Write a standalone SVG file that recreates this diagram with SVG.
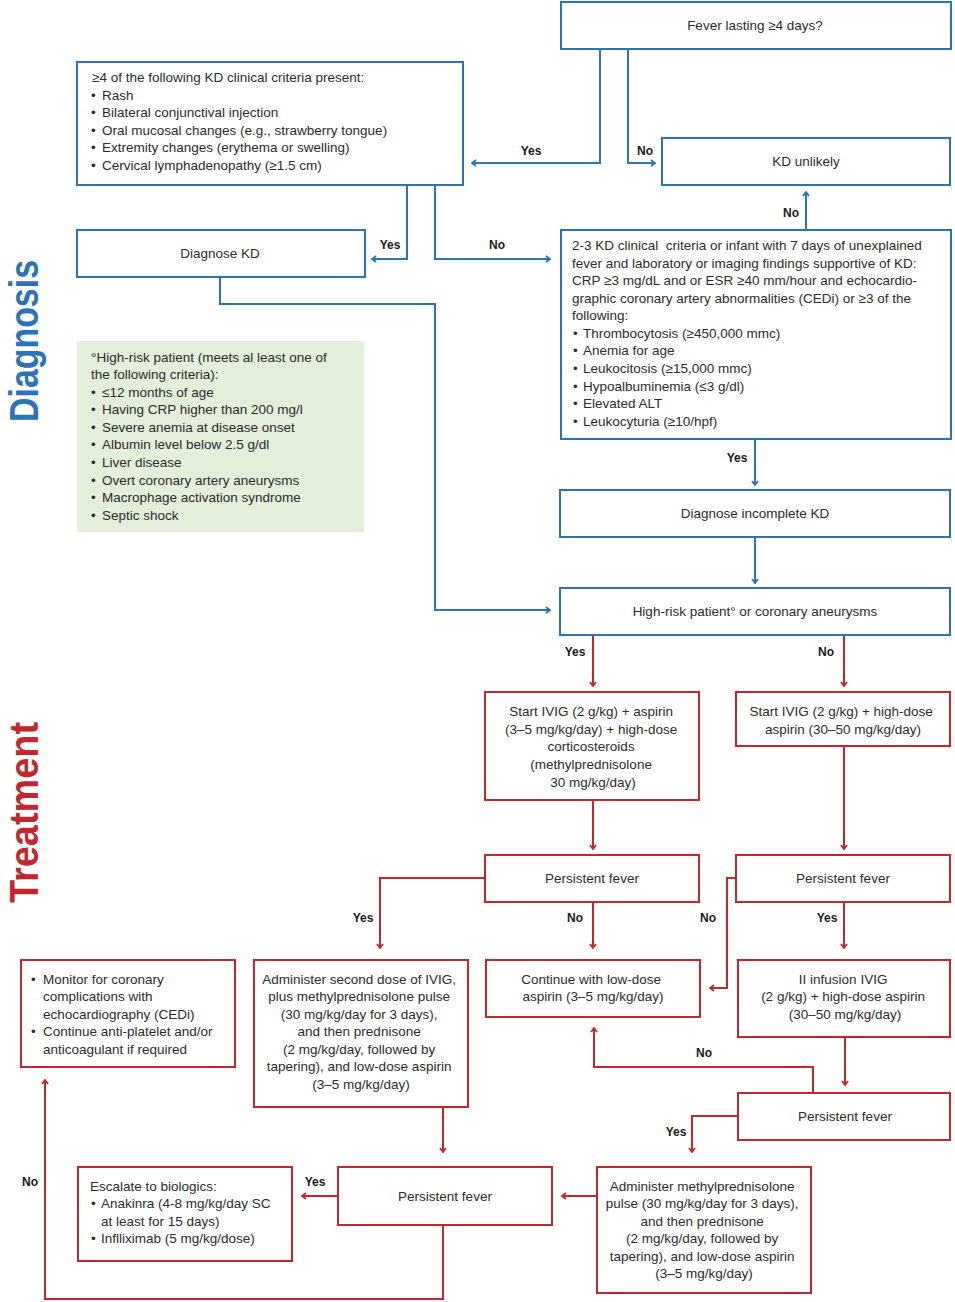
<svg xmlns="http://www.w3.org/2000/svg" width="955" height="1302" viewBox="0 0 955 1302">
<defs>
<style>
.bb{fill:#fff;stroke:#2a73b9;stroke-width:2}
.rb{fill:#fff;stroke:#c1272d;stroke-width:2}
.gb{fill:#e3efd9;stroke:none}
.t{font-family:"Liberation Sans",Arial,sans-serif;font-size:13.5px;fill:#2b2b2b}
.c{text-anchor:middle}
.lb{font-family:"Liberation Sans Narrow","Liberation Sans",Arial,sans-serif;font-size:12px;font-weight:bold;fill:#1a1a1a;text-anchor:middle}
.bl{fill:none;stroke:#2a73b9;stroke-width:2;marker-end:url(#ab)}
.rl{fill:none;stroke:#c1272d;stroke-width:2;marker-end:url(#ar)}
.side{font-family:"Liberation Sans Narrow","Liberation Sans",Arial,sans-serif;font-weight:bold;font-size:40px}
</style>
<marker id="ab" viewBox="0 0 8 8" refX="7" refY="4" markerWidth="8" markerHeight="8" markerUnits="userSpaceOnUse" orient="auto">
<path d="M3,1 L7,4 L3,7" fill="none" stroke="#2a73b9" stroke-width="1.8"/>
</marker>
<marker id="ar" viewBox="0 0 8 8" refX="7" refY="4" markerWidth="8" markerHeight="8" markerUnits="userSpaceOnUse" orient="auto">
<path d="M3,1 L7,4 L3,7" fill="none" stroke="#c1272d" stroke-width="1.8"/>
</marker>
</defs>
<rect width="955" height="1302" fill="#fff"/>

<text class="side" fill="#2a73b9" transform="translate(38,422) rotate(-90)" textLength="162" lengthAdjust="spacingAndGlyphs">Diagnosis</text>
<text class="side" fill="#c1272d" transform="translate(38,903) rotate(-90)" textLength="181" lengthAdjust="spacingAndGlyphs">Treatment</text>

<g id="connectors">
<path class="bl" d="M600,49 V163 H472"/>
<path class="bl" d="M628,49 V163 H655"/>
<path class="bl" d="M806,230 V192"/>
<path class="bl" d="M407,185 V259 H372"/>
<path class="bl" d="M435,185 V259 H550"/>
<path class="bl" d="M220,277 V304 H435 V610 H550"/>
<path class="bl" d="M755,439 V485"/>
<path class="bl" d="M755,537 V583"/>
<path class="rl" d="M593,635 V686"/>
<path class="rl" d="M844,635 V686"/>
<path class="rl" d="M593,800 V849"/>
<path class="rl" d="M844,746 V849"/>
<path class="rl" d="M485,878 H380 V948"/>
<path class="rl" d="M593,902 V948"/>
<path class="rl" d="M736,878 H727 V988 H710"/>
<path class="rl" d="M844,902 V948"/>
<path class="rl" d="M813,1093 V1067 H594 V1028"/>
<path class="rl" d="M845,1037 V1085"/>
<path class="rl" d="M738,1116 H692 V1152"/>
<path class="rl" d="M443,1107 V1152"/>
<path class="rl" d="M597,1196 H562"/>
<path class="rl" d="M338,1196 H302"/>
<path class="rl" d="M443,1225 V1299 H45 V1080"/>
<text class="lb" x="531" y="155">Yes</text>
<text class="lb" x="645" y="155">No</text>
<text class="lb" x="791" y="217">No</text>
<text class="lb" x="390" y="249">Yes</text>
<text class="lb" x="497" y="249">No</text>
<text class="lb" x="737" y="462">Yes</text>
<text class="lb" x="575" y="656">Yes</text>
<text class="lb" x="826" y="656">No</text>
<text class="lb" x="363" y="922">Yes</text>
<text class="lb" x="575" y="922">No</text>
<text class="lb" x="708" y="922">No</text>
<text class="lb" x="827" y="922">Yes</text>
<text class="lb" x="704" y="1057">No</text>
<text class="lb" x="676" y="1136">Yes</text>
<text class="lb" x="315" y="1186">Yes</text>
<text class="lb" x="30" y="1186">No</text>
</g>

<g id="fever">
<rect class="bb" x="561" y="2" width="390" height="47"/>
<text class="t c" x="755" y="30">Fever lasting ≥4 days?</text>
</g>

<g id="criteria">
<rect class="bb" x="77" y="62" width="386" height="123"/>
<text class="t"><tspan x="92" y="82">≥4 of the following KD clinical criteria present:</tspan>
<tspan x="91" y="100">•</tspan><tspan x="102" y="100">Rash</tspan>
<tspan x="91" y="117">•</tspan><tspan x="102" y="117">Bilateral conjunctival injection</tspan>
<tspan x="91" y="135">•</tspan><tspan x="102" y="135">Oral mucosal changes (e.g., strawberry tongue)</tspan>
<tspan x="91" y="152">•</tspan><tspan x="102" y="152">Extremity changes (erythema or swelling)</tspan>
<tspan x="91" y="170">•</tspan><tspan x="102" y="170">Cervical lymphadenopathy (≥1.5 cm)</tspan></text>
</g>

<g id="unlikely">
<rect class="bb" x="662" y="138" width="288" height="47"/>
<text class="t c" x="806" y="166">KD unlikely</text>
</g>

<g id="diagnose">
<rect class="bb" x="77" y="230" width="288" height="47"/>
<text class="t c" x="220" y="258">Diagnose KD</text>
</g>

<g id="incomplete-criteria">
<rect class="bb" x="561" y="230" width="390" height="209"/>
<text class="t"><tspan x="572" y="250">2-3 KD clinical&#160; criteria or infant with 7 days of unexplained</tspan>
<tspan x="572" y="268">fever and laboratory or imaging findings supportive of KD:</tspan>
<tspan x="572" y="285">CRP ≥3 mg/dL and or ESR ≥40 mm/hour and echocardio-</tspan>
<tspan x="572" y="303">graphic coronary artery abnormalities (CEDi) or ≥3 of the</tspan>
<tspan x="572" y="320">following:</tspan>
<tspan x="573" y="338">•</tspan><tspan x="583" y="338">Thrombocytosis (≥450,000 mmc)</tspan>
<tspan x="573" y="355">•</tspan><tspan x="583" y="355">Anemia for age</tspan>
<tspan x="573" y="373">•</tspan><tspan x="583" y="373">Leukocitosis (≥15,000 mmc)</tspan>
<tspan x="573" y="391">•</tspan><tspan x="583" y="391">Hypoalbuminemia (≤3 g/dl)</tspan>
<tspan x="573" y="408">•</tspan><tspan x="583" y="408">Elevated ALT</tspan>
<tspan x="573" y="426">•</tspan><tspan x="583" y="426">Leukocyturia (≥10/hpf)</tspan></text>
</g>

<g id="high-risk-note">
<rect class="gb" x="77" y="341" width="287" height="191"/>
<text class="t"><tspan x="91" y="362">°High-risk patient (meets al least one of</tspan>
<tspan x="91" y="379">the following criteria):</tspan>
<tspan x="91" y="397">•</tspan><tspan x="102" y="397">≤12 months of age</tspan>
<tspan x="91" y="414">•</tspan><tspan x="102" y="414">Having CRP higher than 200 mg/l</tspan>
<tspan x="91" y="432">•</tspan><tspan x="102" y="432">Severe anemia at disease onset</tspan>
<tspan x="91" y="449">•</tspan><tspan x="102" y="449">Albumin level below 2.5 g/dl</tspan>
<tspan x="91" y="467">•</tspan><tspan x="102" y="467">Liver disease</tspan>
<tspan x="91" y="485">•</tspan><tspan x="102" y="485">Overt coronary artery aneurysms</tspan>
<tspan x="91" y="502">•</tspan><tspan x="102" y="502">Macrophage activation syndrome</tspan>
<tspan x="91" y="520">•</tspan><tspan x="102" y="520">Septic shock</tspan></text>
</g>

<g id="diagnose-incomplete">
<rect class="bb" x="560" y="490" width="390" height="47"/>
<text class="t c" x="755" y="518">Diagnose incomplete KD</text>
</g>

<g id="high-risk">
<rect class="bb" x="560" y="588" width="390" height="47"/>
<text class="t c" x="755" y="616">High-risk patient° or coronary aneurysms</text>
</g>

<g id="ivig-steroids">
<rect class="rb" x="485" y="692" width="214" height="108"/>
<text class="t c"><tspan x="593" y="716">Start IVIG (2 g/kg) + aspirin</tspan>
<tspan x="593" y="734">(3–5 mg/kg/day) + high-dose</tspan>
<tspan x="593" y="751">corticosteroids</tspan>
<tspan x="593" y="769">(methylprednisolone</tspan>
<tspan x="593" y="787">30 mg/kg/day)</tspan></text>
</g>

<g id="ivig-aspirin">
<rect class="rb" x="736" y="692" width="214" height="54"/>
<text class="t c"><tspan x="843" y="716">Start IVIG (2 g/kg) + high-dose</tspan>
<tspan x="843" y="734">aspirin (30–50 mg/kg/day)</tspan></text>
</g>

<g id="pf-left">
<rect class="rb" x="485" y="855" width="214" height="47"/>
<text class="t c" x="592" y="883">Persistent fever</text>
</g>

<g id="pf-right">
<rect class="rb" x="736" y="855" width="214" height="47"/>
<text class="t c" x="843" y="883">Persistent fever</text>
</g>

<g id="monitor">
<rect class="rb" x="21" y="960" width="214" height="107"/>
<text class="t"><tspan x="31" y="984">•</tspan><tspan x="43" y="984">Monitor for coronary</tspan>
<tspan x="43" y="1001">complications with</tspan>
<tspan x="43" y="1019">echocardiography (CEDi)</tspan>
<tspan x="31" y="1036">•</tspan><tspan x="43" y="1036">Continue anti-platelet and/or</tspan>
<tspan x="43" y="1054">anticoagulant if required</tspan></text>
</g>

<g id="second-dose">
<rect class="rb" x="254" y="960" width="214" height="147"/>
<text class="t c"><tspan x="361" y="984">Administer second dose of IVIG,</tspan>
<tspan x="361" y="1001">plus methylprednisolone pulse</tspan>
<tspan x="361" y="1019">(30 mg/kg/day for 3 days),</tspan>
<tspan x="361" y="1036">and then prednisone</tspan>
<tspan x="361" y="1054">(2 mg/kg/day, followed by</tspan>
<tspan x="361" y="1071">tapering), and low-dose aspirin</tspan>
<tspan x="361" y="1089">(3–5 mg/kg/day)</tspan></text>
</g>

<g id="low-dose">
<rect class="rb" x="486" y="960" width="214" height="57"/>
<text class="t c"><tspan x="593" y="984">Continue with low-dose</tspan>
<tspan x="593" y="1001">aspirin (3–5 mg/kg/day)</tspan></text>
</g>

<g id="second-infusion">
<rect class="rb" x="738" y="960" width="212" height="77"/>
<text class="t c"><tspan x="845" y="984">II infusion IVIG</tspan>
<tspan x="845" y="1001">(2 g/kg) + high-dose aspirin</tspan>
<tspan x="845" y="1019">(30–50 mg/kg/day)</tspan></text>
</g>

<g id="pf-third">
<rect class="rb" x="738" y="1093" width="212" height="47"/>
<text class="t c" x="845" y="1121">Persistent fever</text>
</g>

<g id="pf-fourth">
<rect class="rb" x="338" y="1167" width="214" height="58"/>
<text class="t c" x="445" y="1201">Persistent fever</text>
</g>

<g id="biologics">
<rect class="rb" x="78" y="1167" width="214" height="94"/>
<text class="t"><tspan x="90" y="1191">Escalate to biologics:</tspan>
<tspan x="91" y="1208">•</tspan><tspan x="101" y="1208">Anakinra (4-8 mg/kg/day SC</tspan>
<tspan x="101" y="1226">at least for 15 days)</tspan>
<tspan x="91" y="1243">•</tspan><tspan x="101" y="1243">Inflliximab (5 mg/kg/dose)</tspan></text>
</g>

<g id="methylpred">
<rect class="rb" x="597" y="1167" width="214" height="126"/>
<text class="t c"><tspan x="704" y="1191">Administer methylprednisolone</tspan>
<tspan x="704" y="1208">pulse (30 mg/kg/day for 3 days),</tspan>
<tspan x="704" y="1226">and then prednisone</tspan>
<tspan x="704" y="1243">(2 mg/kg/day, followed by</tspan>
<tspan x="704" y="1261">tapering), and low-dose aspirin</tspan>
<tspan x="704" y="1278">(3–5 mg/kg/day)</tspan></text>
</g>
</svg>
